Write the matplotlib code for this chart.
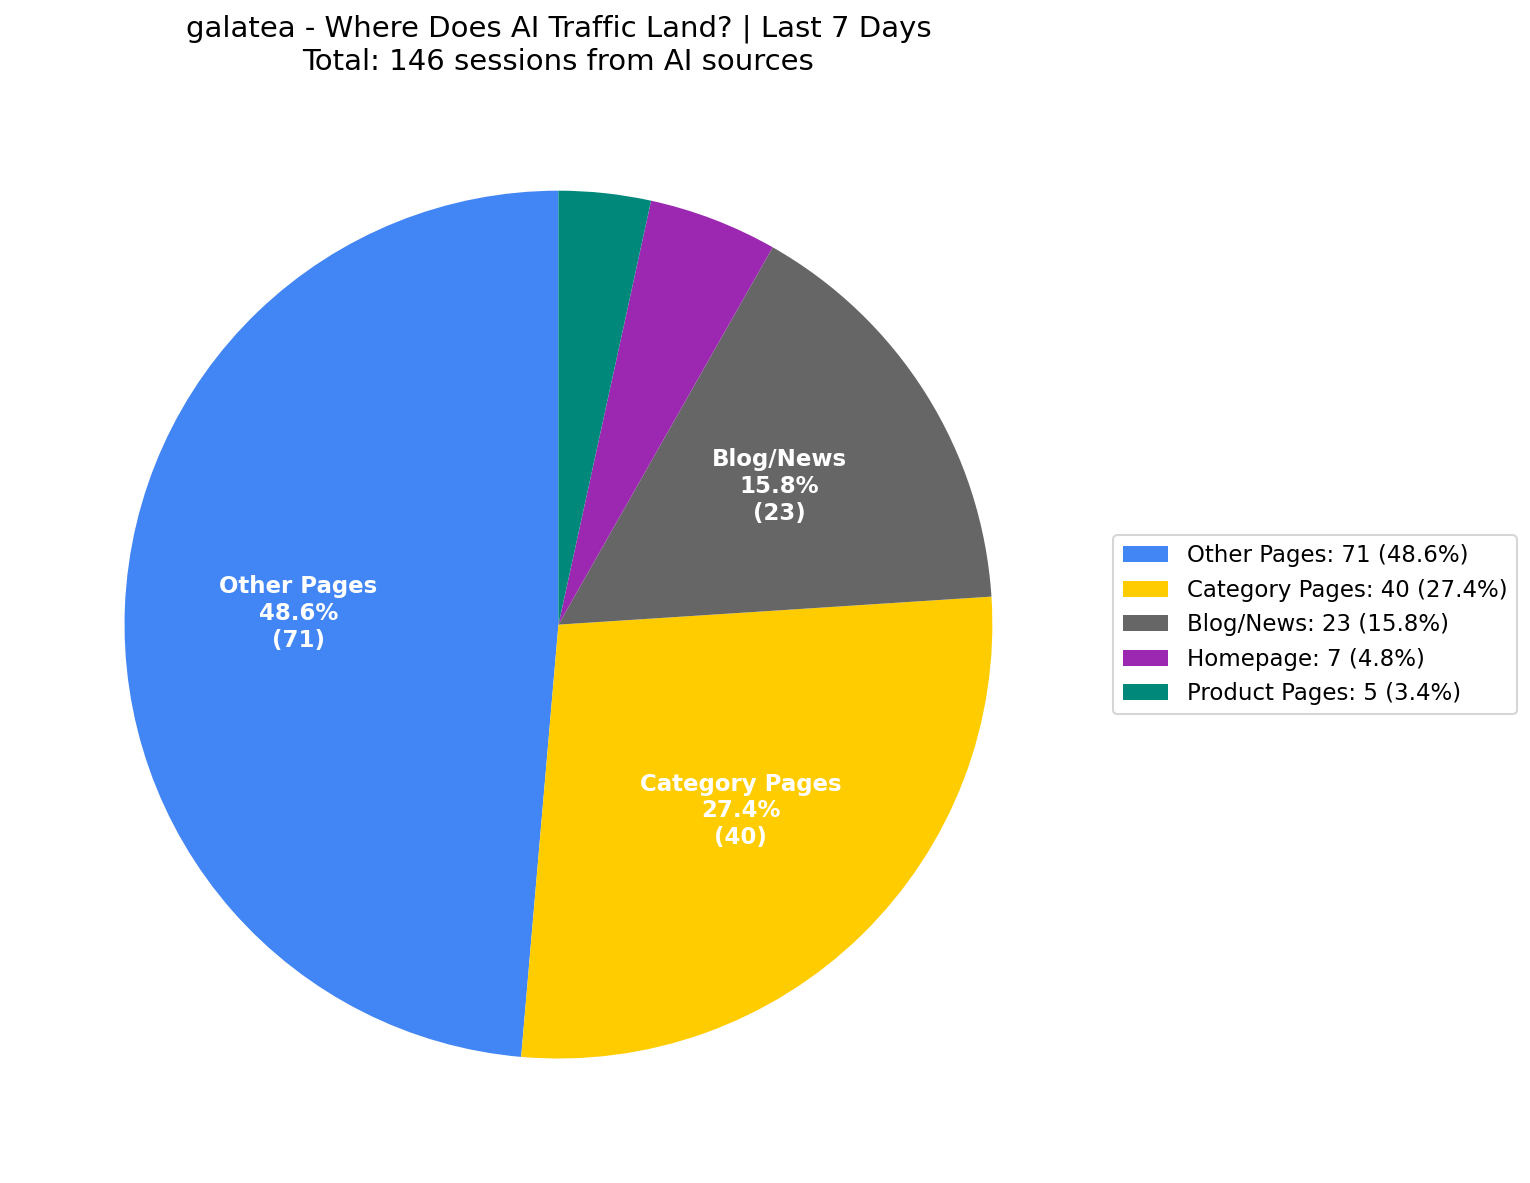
import matplotlib.pyplot as plt

# Data
categories = ['Other Pages', 'Category Pages', 'Blog/News', 'Homepage', 'Product Pages']
sessions = [71, 40, 23, 7, 5]
colors = ['#4285F4', '#FFCC00', '#666666', '#9C27B0', '#00897B']

total = sum(sessions)

fig = plt.figure(figsize=(10.2, 7.887), dpi=150)
ax = fig.add_axes([0.0105, 0.0135, 0.709, 0.917])

label_iter = iter(range(len(sessions)))

def make_label(pct):
    i = next(label_iter)
    if pct < 5:
        return ''
    return f'{categories[i]}\n{pct:.1f}%\n({sessions[i]})'

wedges, texts, autotexts = ax.pie(
    sessions,
    colors=colors,
    startangle=90,
    autopct=make_label,
    pctdistance=0.6,
    textprops={'color': 'white', 'fontsize': 11, 'fontweight': 'bold'},
)
ax.set_aspect('equal')

legend_labels = [f'{c}: {v} ({v / total * 100:.1f}%)' for c, v in zip(categories, sessions)]
ax.legend(wedges, legend_labels, loc='center left', bbox_to_anchor=(1.001, 0.5), fontsize=11)

ax.set_title(f'galatea - Where Does AI Traffic Land? | Last 7 Days\nTotal: {total} sessions from AI sources',
             fontsize=14)

plt.savefig('out.png', dpi=150)
